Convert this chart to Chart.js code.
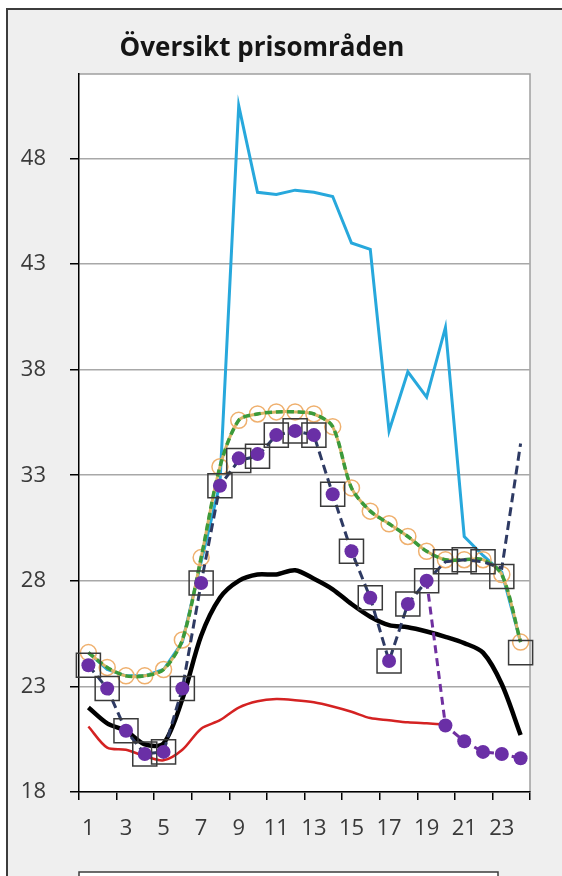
<!DOCTYPE html>
<html>
<head>
<meta charset="utf-8">
<script src="https://cdn.jsdelivr.net/npm/chart.js@4"></script>
<style>
  html, body { margin: 0; padding: 0; background: #fff; }
  #wrap { width: 562px; height: 876px; }
</style>
</head>
<body>
<div id="wrap"><canvas id="price-chart" width="562" height="876"></canvas></div>
<script>
// Data
const titleText = 'Översikt prisområden';
const hours = ['1', '2', '3', '4', '5', '6', '7', '8', '9', '10', '11', '12',
               '13', '14', '15', '16', '17', '18', '19', '20', '21', '22', '23', '24'];
const yTicks = [18, 23, 28, 33, 38, 43, 48];

const cyanValues = [24.6, 23.8, 23.5, 23.5, 23.8, 25.1, 28.9, 32.6, 50.5, 46.4, 46.3, 46.5,
                    46.4, 46.2, 44.0, 43.7, 35.1, 37.9, 36.7, 40.0, 30.1, 29.2, 28.4, 25.1];
const orangeValues = [24.6, 23.9, 23.5, 23.5, 23.8, 25.2, 29.1, 33.4, 35.6, 35.9, 36.0, 36.0,
                      35.9, 35.3, 32.4, 31.3, 30.7, 30.1, 29.4, 29.0, 29.0, 29.0, 28.3, 25.1];
const greenValues = [24.6, 23.9, 23.5, 23.5, 23.8, 25.2, 29.1, 33.4, 35.6, 35.9, 36.0, 36.0,
                     35.9, 35.3, 32.4, 31.3, 30.7, 30.1, 29.4, 29.0, 29.0, 29.0, 28.3, 25.1];
const squareValues = [24.0, 22.9, 20.9, 19.8, 19.9, 22.9, 27.9, 32.5, 33.7, 33.9, 34.9, 35.1,
                      34.9, 32.1, 29.4, 27.2, 24.2, 26.9, 28.0, 28.9, 29.0, 28.9, 28.2, 24.6];
const navyValues = [24.0, 22.9, 20.9, 19.8, 19.9, 22.9, 27.9, 32.5, 33.7, 33.9, 34.9, 35.1,
                    34.9, 32.1, 29.4, 27.2, 24.2, 26.9, 28.0, 28.9, 29.0, 28.9, 28.6, 34.5];
const purpleValues = [24.0, 22.9, 20.9, 19.8, 19.9, 22.9, 27.9, 32.5, 33.8, 34.0, 34.9, 35.1,
                      34.9, 32.1, 29.4, 27.2, 24.2, 26.9, 28.0, 21.15, 20.4, 19.9, 19.8, 19.6];
const blackValues = [22.0, 21.25, 20.9, 20.25, 20.3, 22.4, 25.4, 27.2, 28.0, 28.3, 28.3, 28.5,
                     28.1, 27.6, 26.9, 26.3, 25.9, 25.8, 25.6, 25.35, 25.05, 24.6, 23.1, 20.7];
const redValues = [21.1, 20.1, 20.0, 19.7, 19.5, 20.0, 21.0, 21.4, 22.0, 22.3, 22.4, 22.35,
                   22.25, 22.05, 21.8, 21.5, 21.4, 21.3, 21.25, 21.2, null, null, null, null];

const tickFont = { family: '"Open Sans"', size: 22 };
const tickColor = '#3a3a3a';

// background, frame, title and the (cropped) legend box
const framePlugin = {
    id: 'frame',
    beforeDraw: function(chart) {
        const ctx = chart.ctx;
        const area = chart.chartArea;
        ctx.save();
        ctx.fillStyle = '#ffffff';
        ctx.fillRect(0, 0, chart.width, chart.height);
        ctx.fillStyle = '#efefef';
        ctx.fillRect(7, 9, chart.width - 7, chart.height - 9);
        ctx.strokeStyle = '#3c3c3c';
        ctx.lineWidth = 2;
        ctx.beginPath();
        ctx.moveTo(7, chart.height);
        ctx.lineTo(7, 9);
        ctx.lineTo(chart.width, 9);
        ctx.stroke();

        ctx.fillStyle = '#ffffff';
        ctx.fillRect(area.left, area.top, area.right - area.left, area.bottom - area.top);
        ctx.strokeStyle = '#a0a0a0';
        ctx.lineWidth = 1.5;
        ctx.beginPath();
        ctx.moveTo(area.left, area.top);
        ctx.lineTo(area.right, area.top);
        ctx.lineTo(area.right, area.bottom);
        ctx.stroke();

        ctx.fillStyle = '#ffffff';
        ctx.fillRect(area.left, 872, 419, 10);
        ctx.strokeStyle = '#3c3c3c';
        ctx.lineWidth = 1.5;
        ctx.strokeRect(area.left, 872, 419, 10);

        ctx.font = 'bold 26px "Open Sans"';
        ctx.fillStyle = '#151515';
        ctx.textAlign = 'center';
        ctx.textBaseline = 'alphabetic';
        ctx.fillText(titleText, 262, 56);
        ctx.restore();
    }
};

const ctx = document.getElementById('price-chart').getContext('2d');

const priceChart = new Chart(ctx, {
    type: 'line',
    data: {
        labels: hours,
        datasets: [
            {
                label: 'Serie 6',
                data: purpleValues,
                borderColor: '#7030a0',
                borderWidth: 3,
                borderDash: [8, 5],
                segment: {
                    borderColor: (c) => c.p0DataIndex < 18 ? 'rgba(0,0,0,0)' : '#7030a0',
                },
                pointStyle: 'circle',
                pointRadius: 7,
                pointBackgroundColor: '#6a2fa6',
                pointBorderColor: '#6a2fa6',
                pointBorderWidth: 0,
                clip: false,
            },
            {
                label: 'Serie 5',
                data: squareValues,
                showLine: false,
                pointStyle: 'rect',
                pointRadius: 17,
                pointBackgroundColor: 'rgba(0,0,0,0)',
                pointBorderColor: '#3a3a3a',
                pointBorderWidth: 1.5,
                clip: false,
            },
            {
                label: 'Serie 4',
                data: navyValues,
                borderColor: '#2e3a63',
                borderWidth: 3,
                borderDash: [9, 5],
                pointRadius: 0,
                clip: false,
            },
            {
                label: 'Serie 3',
                data: greenValues,
                borderColor: '#3b9a3b',
                borderWidth: 3.5,
                borderDash: [7, 4],
                tension: 0.3,
                pointRadius: 0,
                clip: false,
            },
            {
                label: 'Serie 2',
                data: orangeValues,
                borderColor: '#d8b466',
                borderWidth: 3,
                tension: 0.3,
                pointStyle: 'circle',
                pointRadius: 8,
                pointBackgroundColor: 'rgba(0,0,0,0)',
                pointBorderColor: '#efb06e',
                pointBorderWidth: 1.5,
                clip: false,
            },
            {
                label: 'Serie 1',
                data: cyanValues,
                borderColor: '#27a8dc',
                borderWidth: 3,
                pointRadius: 0,
                clip: false,
            },
            {
                label: 'System',
                data: blackValues,
                borderColor: '#000000',
                borderWidth: 4.5,
                tension: 0.3,
                pointRadius: 0,
                clip: false,
            },
            {
                label: 'Serie 7',
                data: redValues,
                borderColor: '#d42222',
                borderWidth: 2.5,
                tension: 0.3,
                pointRadius: 0,
                clip: false,
            },
        ],
    },
    options: {
        responsive: false,
        animation: false,
        layout: {
            padding: { top: 74, right: 32, bottom: 0, left: 0 },
        },
        plugins: {
            legend: { display: false },
            title: { display: false },
            tooltip: { enabled: false },
        },
        scales: {
            x: {
                type: 'category',
                offset: true,
                grid: {
                    offset: true,
                    drawOnChartArea: false,
                    tickLength: 8,
                    lineWidth: 1.5,
                    color: (c) => ((c.index ?? 0) % 2 === 0 ? '#000000' : 'rgba(0,0,0,0)'),
                    tickColor: (c) => ((c.index ?? 0) % 2 === 0 ? '#000000' : 'rgba(0,0,0,0)'),
                },
                border: { display: true, color: '#000000', width: 1.5 },
                ticks: {
                    autoSkip: false,
                    maxRotation: 0,
                    padding: 16,
                    color: tickColor,
                    font: tickFont,
                    callback: function(value, index) {
                        return index % 2 === 0 ? hours[index] : '';
                    },
                },
                afterFit: function(scale) {
                    scale.height = 84;
                },
            },
            y: {
                min: 18,
                max: 52,
                afterBuildTicks: function(scale) {
                    scale.ticks = yTicks.map((v) => ({ value: v }));
                },
                grid: {
                    color: '#a8a8a8',
                    lineWidth: 1.5,
                    tickLength: 9,
                    tickColor: '#000000',
                },
                border: { display: true, color: '#000000', width: 1.5 },
                ticks: {
                    padding: 24,
                    color: tickColor,
                    font: tickFont,
                },
                afterFit: function(scale) {
                    scale.width = 79;
                },
            },
        },
    },
    plugins: [framePlugin],
});
</script>
</body>
</html>
